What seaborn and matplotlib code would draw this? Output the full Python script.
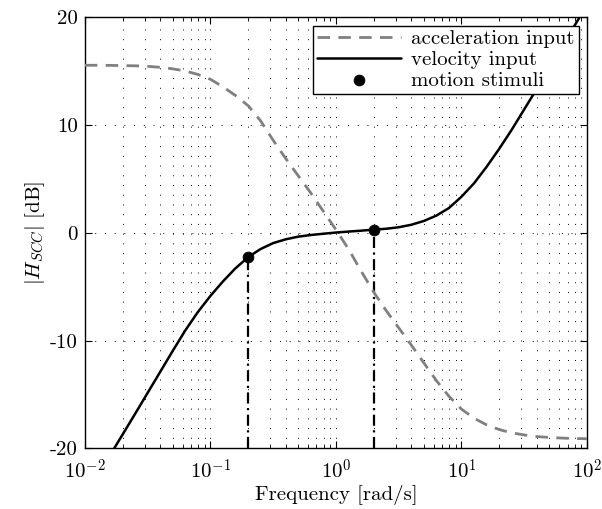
import numpy as np
import pandas as pd
import matplotlib
matplotlib.use("Agg")
import matplotlib.pyplot as plt
import seaborn as sns
from matplotlib.ticker import LogLocator, FixedLocator, NullFormatter, FixedFormatter

# ---- data ----
accel_freq = [0.01, 0.0126, 0.0158, 0.02, 0.0251, 0.0316, 0.0398, 0.0501, 0.0631, 0.0794,
              0.1, 0.126, 0.158, 0.2, 0.251, 0.316, 0.398, 0.501, 0.631, 0.794,
              1.0, 1.26, 1.58, 2.0, 2.51, 3.16, 3.98, 5.01, 6.31, 7.94,
              10.0, 12.6, 15.8, 20.0, 25.1, 31.6, 39.8, 50.1, 63.1, 79.4, 100.0]
accel_db = [15.55, 15.55, 15.54, 15.52, 15.5, 15.45, 15.36, 15.22, 15.02, 14.7,
            14.25, 13.55, 12.75, 11.8, 10.4, 8.6, 6.9, 5.3, 3.7, 2.0,
            0.3, -1.5, -3.5, -5.5, -7.2, -8.8, -10.4, -12.05, -13.7, -15.15,
            -16.35, -17.2, -17.8, -18.25, -18.55, -18.75, -18.9, -18.98, -19.04, -19.08, -19.1]

vel_freq = [0.0171, 0.02, 0.0251, 0.0316, 0.0398, 0.0501, 0.0631, 0.0794,
            0.1, 0.126, 0.158, 0.2, 0.251, 0.316, 0.398, 0.501, 0.631, 0.794,
            1.0, 1.26, 1.58, 2.0, 2.51, 3.16, 3.98, 5.01, 6.31, 7.94,
            10.0, 12.6, 15.8, 20.0, 25.1, 31.6, 39.8, 50.1, 63.1, 79.4, 100.0]
vel_db = [-20.0, -18.7, -16.8, -14.85, -12.9, -10.95, -9.05, -7.35,
          -5.85, -4.5, -3.3, -2.25, -1.5, -0.95, -0.6, -0.35, -0.2, -0.08,
          0.03, 0.12, 0.2, 0.3, 0.38, 0.52, 0.75, 1.1, 1.6, 2.3,
          3.35, 4.6, 6.1, 7.8, 9.55, 11.45, 13.35, 15.3, 17.25, 19.2, 21.15]

stim_freq = [0.2, 2.0]
stim_db = [-2.25, 0.3]

x_ticks = [0.01, 0.1, 1, 10, 100]
x_labels = [r"$10^{-2}$", r"$10^{-1}$", r"$10^{0}$", r"$10^{1}$", r"$10^{2}$"]
y_ticks = [-20, -10, 0, 10, 20]
y_labels = ["-20", "-10", "0", "10", "20"]

# ---- style ----
sns.set_theme(style="ticks")
plt.rcParams.update({
    "font.family": ["cmr10", "DejaVu Serif"],
    "mathtext.fontset": "cm",
    "axes.formatter.use_mathtext": True,
    "font.size": 15,
    "axes.edgecolor": "black",
    "axes.linewidth": 1.0,
    "xtick.direction": "in",
    "ytick.direction": "in",
    "xtick.top": True,
    "ytick.right": True,
    "xtick.color": "black",
    "ytick.color": "black",
    "text.color": "black",
    "axes.labelcolor": "black",
})

fig = plt.figure(figsize=(6.02, 5.09), dpi=100)
ax = fig.add_axes([0.141, 0.119, 0.834, 0.847])

df_acc = pd.DataFrame({"f": accel_freq, "db": accel_db})
df_vel = pd.DataFrame({"f": vel_freq, "db": vel_db})
df_stim = pd.DataFrame({"f": stim_freq, "db": stim_db})

ymin, ymax = y_ticks[0], y_ticks[-1]

ax.set_xscale("log")
ax.set_xlim(x_ticks[0], x_ticks[-1])
ax.set_ylim(ymin, ymax)

grid_kw = dict(color="black", linestyle=(0, (1, 9)), linewidth=0.7)
ax.xaxis.set_major_locator(FixedLocator(x_ticks))
ax.xaxis.set_major_formatter(FixedFormatter(x_labels))
ax.xaxis.set_minor_locator(LogLocator(base=10, subs=np.arange(2, 10)))
ax.xaxis.set_minor_formatter(NullFormatter())
ax.yaxis.set_major_locator(FixedLocator(y_ticks))
ax.yaxis.set_major_formatter(FixedFormatter(y_labels))
ax.grid(True, which="major", axis="both", **grid_kw)
ax.grid(True, which="minor", axis="x", **grid_kw)

# vertical dash-dot lines from stimuli down to the bottom
for f, d in zip(stim_freq, stim_db):
    ax.plot([f, f], [ymin, d], color="black", linestyle=(0, (5, 2, 1, 2)), linewidth=1.6, zorder=3)

sns.lineplot(data=df_acc, x="f", y="db", ax=ax, color="#808080", linewidth=2.0,
             label="acceleration input", zorder=4)
ax.lines[-1].set_linestyle((0, (4.5, 3)))
sns.lineplot(data=df_vel, x="f", y="db", ax=ax, color="black", linewidth=1.8,
             label="velocity input", zorder=5)
sns.scatterplot(data=df_stim, x="f", y="db", ax=ax, color="black", s=60, edgecolor="black",
                label="motion stimuli", zorder=6)

ax.set_xlim(x_ticks[0], x_ticks[-1])
ax.set_ylim(ymin, ymax)
ax.tick_params(which="major", length=5, width=0.8, labelsize=15)
ax.tick_params(axis="x", which="major", pad=7)
ax.tick_params(axis="y", which="major", pad=5)
ax.tick_params(which="minor", length=3, width=0.6)

ax.set_xlabel("Frequency [rad/s]", fontsize=15, labelpad=2)
ax.set_ylabel(r"$|H_{SCC}|$ [dB]", fontsize=15, labelpad=2)

leg = ax.legend(loc="upper right", fontsize=15, frameon=True, fancybox=False,
                edgecolor="black", framealpha=1, handlelength=4.0, borderpad=0.2,
                labelspacing=0.1, handletextpad=0.5, borderaxespad=0.4)
leg.get_frame().set_linewidth(1.0)

for s in ax.spines.values():
    s.set_visible(True)
    s.set_color("black")

fig.savefig("out.png", dpi=100)
